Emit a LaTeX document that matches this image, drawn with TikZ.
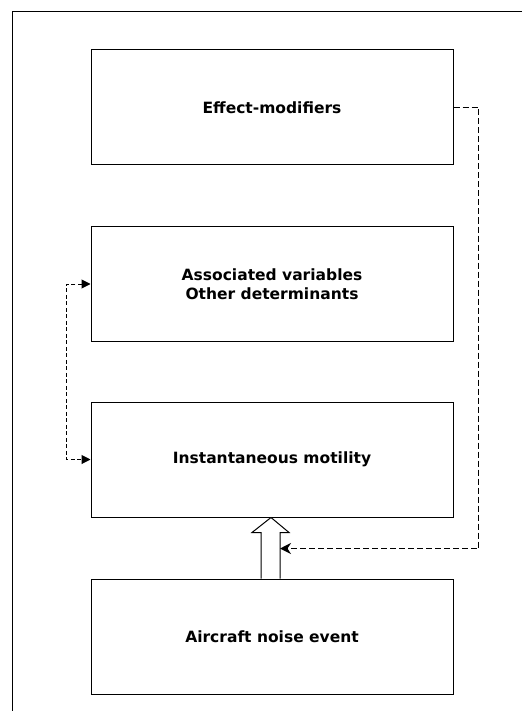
\documentclass[tikz,border=0pt]{standalone}
\usepackage{fontspec}
\setmainfont{DejaVu Sans}
\usetikzlibrary{arrows.meta,calc}
\begin{document}
\begin{tikzpicture}[x=1pt,y=-1pt,
  box/.style={draw=black, line width=1pt, minimum width=362pt, minimum height=115pt, inner sep=0pt, align=center,
    font=\fontsize{15.5}{19}\selectfont\bfseries},
  thindash/.style={draw=black, line width=1pt, dash pattern=on 4pt off 2.5pt},
  thickdash/.style={draw=black, line width=1.8pt, dash pattern=on 6pt off 3pt},
  blockarrow/.style={draw=black, fill=white, line width=1pt, line join=miter}
]
\useasboundingbox (0,0) rectangle (522,711);
\draw[line width=1pt] (522,12) -- (12,12) -- (12,711);
\node[box] (b1) at (272,107.5) {Effect-modifiers};
\node[box] (b2) at (272,284) {Associated variables\\Other determinants};
\node[box] (b3) at (272,459.5) {Instantaneous motility};
\node[box] (b4) at (272,636.5) {Aircraft noise event};
% block arrow from b4 to b3
\draw[blockarrow] ($(b4.north)+(-11,0)$) -- ($(b3.south)+(-11,15)$) -- ($(b3.south)+(-20,15)$)
  -- ($(b3.south)+(-1,0)$) -- ($(b3.south)+(17,15)$) -- ($(b3.south)+(8,15)$) -- ($(b4.north)+(8,0)$);
\coordinate (hit) at ($(b3.south)+(8,31)$);
% left dashed double arrow
\draw[thindash, {Triangle[length=9pt,width=9pt]}-{Triangle[length=9pt,width=9pt]}]
  (b2.west) -- ++(-24,0) |- (b3.west);
% right dashed arrow
\draw[thickdash, -{Stealth[length=11pt,width=11pt]}] (b1.east) -- ++(25,0) |- (hit);
\end{tikzpicture}
\end{document}
